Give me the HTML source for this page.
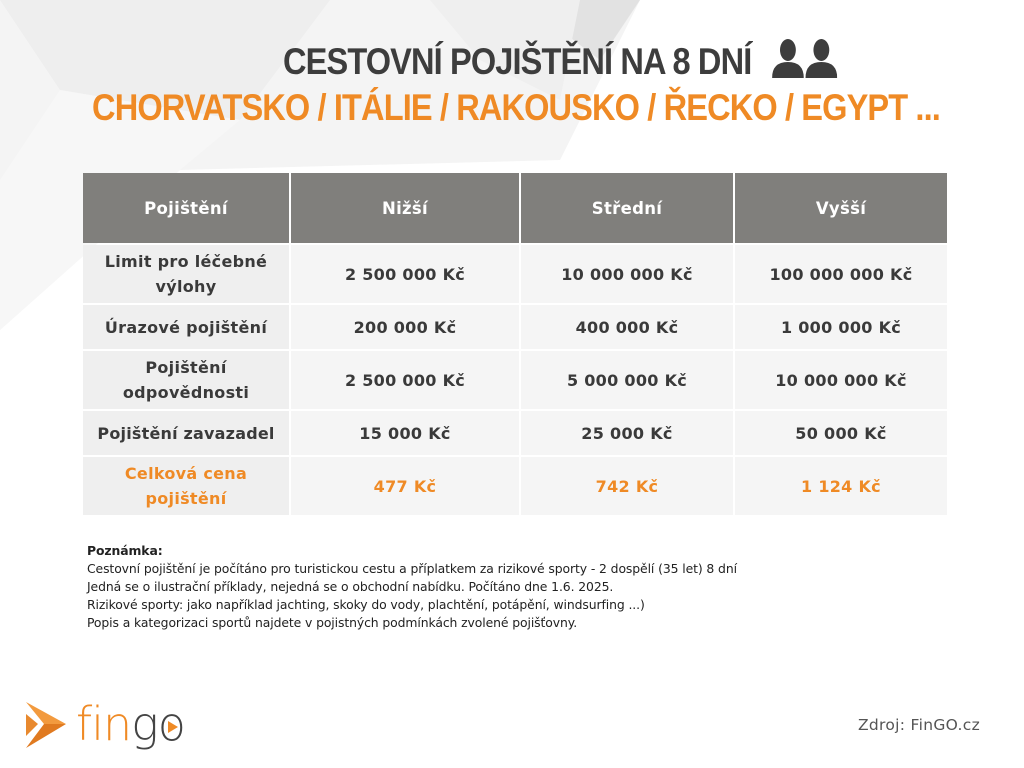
<!DOCTYPE html>
<html><head><meta charset="utf-8"><style>
body{margin:0;width:1024px;height:768px;background:#fff;position:relative;overflow:hidden;font-family:"Liberation Sans","DejaVu Sans",sans-serif;}
.bg{position:absolute;left:0;top:0}
.t1,.t2{position:absolute;left:0;width:1024px;text-align:center;font-weight:bold;letter-spacing:-1px;white-space:nowrap;transform:scaleX(0.88);transform-origin:512px 0}
.t1{top:38px;font-size:37px;color:#3d3d3d;left:48px}
.t2{top:87px;font-size:37px;color:#ef8a25;left:4px}
.cell{position:absolute;display:flex;align-items:center;justify-content:center;text-align:center;font-weight:bold;font-size:16px;color:#3a3a3a;letter-spacing:0.3px;line-height:25px;background:#f5f5f5;box-sizing:border-box;padding:0 4px;font-family:"DejaVu Sans",sans-serif;}
.h{background:#807f7c;color:#fff;font-size:16.5px}
.c0{background:#efefef}
.o{color:#ef8a25}
.note{position:absolute;left:87px;top:542px;font-size:12.4px;line-height:18px;color:#222;font-family:"DejaVu Sans",sans-serif;letter-spacing:-0.1px}
.src{position:absolute;left:858px;top:716px;font-size:15.5px;color:#555;letter-spacing:0.3px;font-family:"DejaVu Sans",sans-serif}
.logo{position:absolute;left:76px;top:697px;font-size:46px;font-family:"DejaVu Sans",sans-serif;font-weight:300;letter-spacing:-1px}
</style></head><body>
<svg class="bg" width="1024" height="520">
<polygon points="0,0 640,0 560,160 180,170 0,330" fill="#f4f4f4"/>
<polygon points="0,0 330,0 240,120 60,90" fill="#eeeeee"/>
<polygon points="580,0 640,0 600,60 560,30" fill="#e2e2e2"/>
<polygon points="430,0 580,0 560,100 480,60" fill="#efefef"/>
<polygon points="60,90 240,120 180,170 0,330 0,180" fill="#f7f7f7"/>
</svg>
<div class="t1">CESTOVNÍ POJIŠTĚNÍ NA 8 DNÍ <svg width="74" height="40" style="vertical-align:-4px;margin-left:14px"><g fill="#3d3d3d"><ellipse cx="18" cy="12" rx="9" ry="11"/><path d="M0 40 Q0 24 18 24 Q36 24 36 40Z"/><ellipse cx="56" cy="12" rx="9" ry="11"/><path d="M38 40 Q38 24 56 24 Q74 24 74 40Z"/></g></svg></div>
<div class="t2">CHORVATSKO / ITÁLIE / RAKOUSKO / ŘECKO / EGYPT ...</div>

<div class="cell h" style="left:83px;top:173px;width:206px;height:70px">Pojištění</div>
<div class="cell h" style="left:291px;top:173px;width:228px;height:70px">Nižší</div>
<div class="cell h" style="left:521px;top:173px;width:212px;height:70px">Střední</div>
<div class="cell h" style="left:735px;top:173px;width:212px;height:70px">Vyšší</div>

<div class="cell c0" style="left:83px;top:245px;width:206px;height:58px">Limit pro léčebné výlohy</div>
<div class="cell" style="left:291px;top:245px;width:228px;height:58px">2 500 000 Kč</div>
<div class="cell" style="left:521px;top:245px;width:212px;height:58px">10 000 000 Kč</div>
<div class="cell" style="left:735px;top:245px;width:212px;height:58px">100 000 000 Kč</div>

<div class="cell c0" style="left:83px;top:305px;width:206px;height:44px">Úrazové pojištění</div>
<div class="cell" style="left:291px;top:305px;width:228px;height:44px">200 000 Kč</div>
<div class="cell" style="left:521px;top:305px;width:212px;height:44px">400 000 Kč</div>
<div class="cell" style="left:735px;top:305px;width:212px;height:44px">1 000 000 Kč</div>

<div class="cell c0" style="left:83px;top:351px;width:206px;height:58px">Pojištění odpovědnosti</div>
<div class="cell" style="left:291px;top:351px;width:228px;height:58px">2 500 000 Kč</div>
<div class="cell" style="left:521px;top:351px;width:212px;height:58px">5 000 000 Kč</div>
<div class="cell" style="left:735px;top:351px;width:212px;height:58px">10 000 000 Kč</div>

<div class="cell c0" style="left:83px;top:411px;width:206px;height:44px;padding:0;letter-spacing:0.2px">Pojištění zavazadel</div>
<div class="cell" style="left:291px;top:411px;width:228px;height:44px">15 000 Kč</div>
<div class="cell" style="left:521px;top:411px;width:212px;height:44px">25 000 Kč</div>
<div class="cell" style="left:735px;top:411px;width:212px;height:44px">50 000 Kč</div>

<div class="cell c0 o" style="left:83px;top:457px;width:206px;height:58px">Celková cena pojištění</div>
<div class="cell o" style="left:291px;top:457px;width:228px;height:58px">477 Kč</div>
<div class="cell o" style="left:521px;top:457px;width:212px;height:58px">742 Kč</div>
<div class="cell o" style="left:735px;top:457px;width:212px;height:58px">1 124 Kč</div>

<div class="note"><b>Poznámka:</b><br>Cestovní pojištění je počítáno pro turistickou cestu a příplatkem za rizikové sporty - 2 dospělí (35 let) 8 dní<br>Jedná se o ilustrační příklady, nejedná se o obchodní nabídku. Počítáno dne 1.6. 2025.<br>Rizikové sporty: jako například jachting, skoky do vody, plachtění, potápění, windsurfing ...)<br>Popis a kategorizaci sportů najdete v pojistných podmínkách zvolené pojišťovny.</div>

<svg style="position:absolute;left:24px;top:700px" width="44" height="50">
<polygon points="2,2 42,24 20,24" fill="#f29a3e"/>
<polygon points="20,24 42,24 2,48" fill="#e07a20"/>
<polygon points="2,14 14,24 2,36" fill="#e8892e"/>
</svg>
<div class="logo"><span style="color:#ef8a25">fin</span><span style="color:#444">go</span></div>
<svg style="position:absolute;left:168px;top:721px" width="10" height="12"><polygon points="0,0 10,6 0,12" fill="#ef8a25"/></svg>
<div class="src">Zdroj: FinGO.cz</div>
</body></html>
